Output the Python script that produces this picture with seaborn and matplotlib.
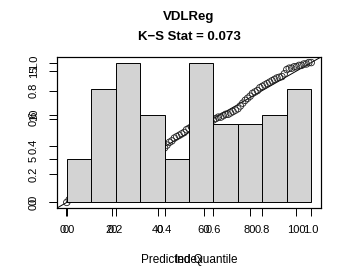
import numpy as np
import pandas as pd
import matplotlib
matplotlib.use("Agg")
import matplotlib.pyplot as plt
import seaborn as sns

# ---- data ----
title_main = "VDLReg"
title_sub = "K\u2212S Stat = 0.073"
xlabel_pred = "Predicted Quantile"
xlabel_index = "Index"

# histogram (counts per bin, bins on 0.5..106.5)
hist_counts = [5, 13, 16, 10, 5, 16, 9, 9, 10, 13]
hist_edges = [0.5, 11.1, 21.7, 32.3, 42.9, 53.5, 64.1, 74.7, 85.3, 95.9, 106.5]
hist_xticks = [0, 20, 40, 60, 80, 100]
hist_yticks = [0, 5, 10, 15]

# QQ points: sorted predicted quantiles vs index quantiles
pred_q = [0.00,
          0.02, 0.03, 0.04, 0.05, 0.06, 0.07, 0.08, 0.09, 0.10, 0.11,
          0.12, 0.13, 0.14, 0.15, 0.17, 0.18, 0.19, 0.20, 0.21, 0.22,
          0.23, 0.24, 0.25, 0.26, 0.27, 0.28, 0.29, 0.30, 0.31, 0.32,
          0.33, 0.34, 0.35, 0.35, 0.36, 0.36, 0.37, 0.38, 0.38, 0.39,
          0.41, 0.43, 0.44, 0.46, 0.47, 0.48, 0.49, 0.50, 0.52, 0.53,
          0.54, 0.55, 0.55, 0.56, 0.56, 0.57, 0.57, 0.58, 0.58, 0.59,
          0.60, 0.61, 0.61, 0.62, 0.63, 0.63, 0.64, 0.65, 0.66, 0.67,
          0.69, 0.71, 0.73, 0.745, 0.76, 0.78, 0.79, 0.80, 0.82, 0.83,
          0.84, 0.85, 0.86, 0.87, 0.88, 0.89, 0.895, 0.90, 0.92, 0.95,
          0.96, 0.96, 0.97, 0.97, 0.98, 0.98, 0.99, 0.99, 1.00, 1.00]
index_q = list(np.linspace(0, 1, len(pred_q)))
qq_ticks = [0.0, 0.2, 0.4, 0.6, 0.8, 1.0]

# ---- figure ----
sns.set_style("white")
plt.rcParams["font.family"] = ["Liberation Sans", "DejaVu Sans"]
plt.rcParams["text.color"] = "black"
plt.rcParams["axes.labelcolor"] = "black"
plt.rcParams["xtick.color"] = "black"
plt.rcParams["ytick.color"] = "black"

W, H = 351, 280
fig = plt.figure(figsize=(W / 100, H / 100), dpi=100)
L, R, T, B = 57, 321, 57, 208
rect = [L / W, 1 - B / H, (R - L) / W, (B - T) / H]

ax_qq = fig.add_axes(rect)
ax_h = fig.add_axes(rect)
ax_h.patch.set_visible(False)

# QQ plot (drawn below the histogram)
df_qq = pd.DataFrame({"idx": index_q, "pred": pred_q})
ax_qq.axline((0, 0), (1, 1), color="black", lw=0.7, zorder=1)
sns.scatterplot(data=df_qq, x="idx", y="pred", ax=ax_qq, marker="o",
                s=22, facecolor="none", edgecolor="#222222", linewidth=0.6,
                zorder=2, legend=False)
ax_qq.set_xlim(-0.04, 1.04)
ax_qq.set_ylim(-0.04, 1.04)
ax_qq.set_xticks(qq_ticks)
ax_qq.set_yticks(qq_ticks)
ax_qq.set_xticklabels([f"{v:.1f}" for v in qq_ticks])
ax_qq.set_yticklabels([f"{v:.1f}" for v in qq_ticks])

# Histogram on top
centers = [(hist_edges[i] + hist_edges[i + 1]) / 2 for i in range(len(hist_counts))]
df_h = pd.DataFrame({"x": centers, "w": hist_counts})
sns.histplot(data=df_h, x="x", weights="w", bins=hist_edges, ax=ax_h,
             color="#d3d3d3", edgecolor="black", linewidth=0.7, alpha=1.0)
rng = hist_edges[-1] - hist_edges[0]
ax_h.set_xlim(hist_edges[0] - 0.04 * rng, hist_edges[-1] + 0.04 * rng)
ax_h.set_ylim(-0.04 * max(hist_counts), 1.04 * max(hist_counts))
ax_h.set_xticks(hist_xticks)
ax_h.set_yticks(hist_yticks)
ax_h.set_xticklabels([str(v) for v in hist_xticks])
ax_h.set_yticklabels([str(v) for v in hist_yticks])

for ax, lab in ((ax_qq, xlabel_pred), (ax_h, xlabel_index)):
    ax.set_xlabel(lab, fontsize=8.5, labelpad=14, color="black")
    ax.set_ylabel("")
    ax.tick_params(axis="both", direction="out", length=6, width=0.7,
                   color="black", labelcolor="black", labelsize=8, pad=6,
                   bottom=True, left=True)
    ax.tick_params(axis="y", labelrotation=90, pad=7)
    for lbl in ax.get_yticklabels():
        lbl.set_va("center")
    for s in ax.spines.values():
        s.set_color("black")
        s.set_linewidth(0.8)
    ax.grid(False)

ax_h.set_zorder(ax_qq.get_zorder() + 1)

fig.text((L + R) / 2 / W, 1 - 17 / H, title_main, ha="center", va="center",
         fontsize=9.5, fontweight="bold", color="black")
fig.text((L + R) / 2 / W, 1 - 37 / H, title_sub, ha="center", va="center",
         fontsize=9.5, fontweight="bold", color="black")

fig.savefig("out.png", dpi=100, facecolor="white")
